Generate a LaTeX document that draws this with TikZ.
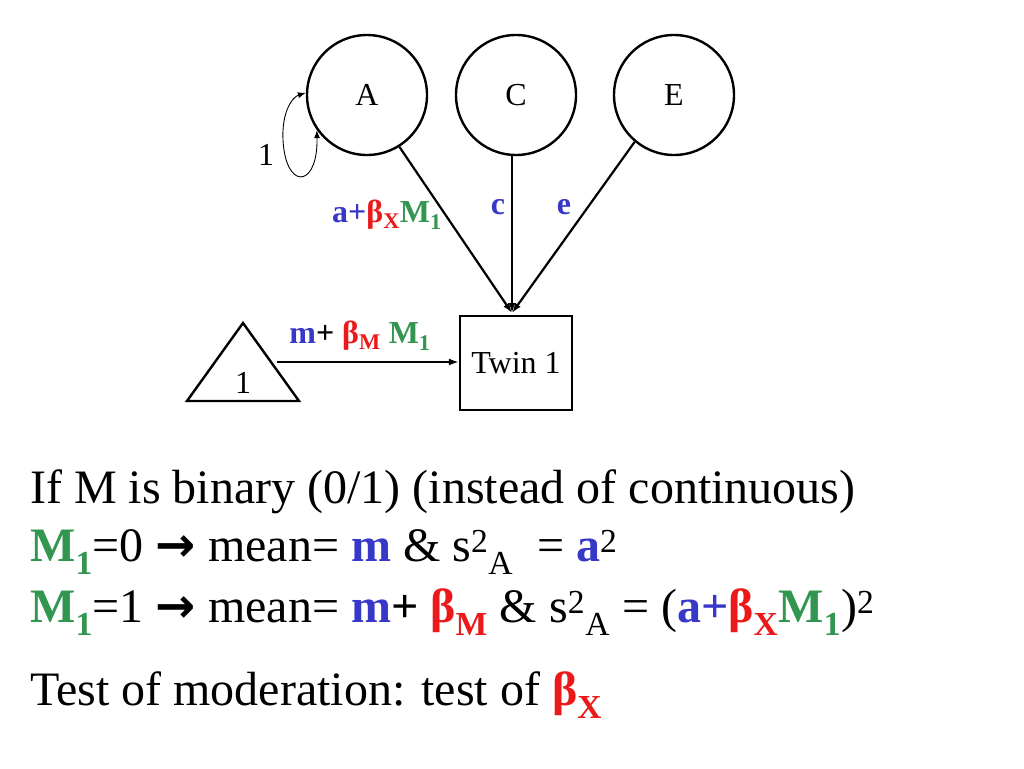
\documentclass[tikz,border=0pt]{standalone}
\usepackage{fontspec}
\setmainfont{Liberation Serif}
\usetikzlibrary{arrows.meta}
\definecolor{cb}{RGB}{55,55,200}
\definecolor{cg}{RGB}{50,150,80}
\definecolor{cr}{RGB}{235,25,25}
\begin{document}
\begin{tikzpicture}[x=1pt,y=-1pt,
  lat/.style={draw,circle,line width=2.4pt,minimum size=120pt,inner sep=0pt,font=\fontsize{32}{36}\selectfont},
  lbl/.style={font=\fontsize{32}{36}\selectfont\bfseries},
  big/.style={anchor=west,font=\fontsize{48}{54}\selectfont,inner sep=0pt}]
\useasboundingbox (0,0) rectangle (1024,768);
\node[lat] (A) at (367,95) {A};
\node[lat] (C) at (516,95) {C};
\node[lat] (E) at (674,95) {E};
\node[draw,line width=2.4pt,minimum width=112pt,minimum height=94pt,font=\fontsize{32}{36}\selectfont] (T) at (516,363) {Twin 1};
\coordinate (Tt) at (512,313);
\draw[line width=2.4pt] (187,401) -- (299,401) -- (243,323) -- cycle;
\node[font=\fontsize{32}{36}\selectfont] (one) at (243,383) {1};
\coordinate (tr) at (277,362);
\draw[-{Latex[length=10pt,width=7pt]},line width=2.2pt] (A.-58) -- (Tt);
\draw[-{Latex[length=10pt,width=7pt]},line width=2.2pt] (512,155) -- (Tt);
\draw[-{Latex[length=10pt,width=7pt]},line width=2.2pt] (E.-130) -- (Tt);
\draw[-{Latex[length=10pt,width=7pt]},line width=1.8pt] (tr) -- (T.west |- tr);
\draw[{Latex[length=8pt,width=6pt]}-{Latex[length=8pt,width=6pt]},line width=0.9pt] (A.-145) .. controls (318,185) and (290,190) .. (284,150) .. controls (279,115) and (292,97) .. (A.178);
\node[font=\fontsize{32}{36}\selectfont] (l1) at (266,155) {1};
\node[lbl] (la) at (387,215) {\textcolor{cb}{a+}\textcolor{cr}{β\textsubscript{X}}\textcolor{cg}{M\textsubscript{1}}};
\node[lbl,text=cb] (lc) at (498,207) {c};
\node[lbl,text=cb] (le) at (564,207) {e};
\node[lbl] (lm) at (360,336) {\textcolor{cb}{m}+ \textcolor{cr}{β\textsubscript{M}} \textcolor{cg}{M\textsubscript{1}}};
\node[big] (t1) at (30,492) {If M is binary (0/1) (instead of continuous)};
\node[big] (t2) at (30,552) {\textcolor{cg}{\textbf{M\textsubscript{1}}}=0 {\fontspec{DejaVu Sans}\bfseries →} mean= \textcolor{cb}{\textbf{m}} \& s\textsuperscript{2}\textsubscript{A} \ = \textcolor{cb}{\textbf{a}}\textsuperscript{2}};
\node[big] (t3) at (30,612) {\textcolor{cg}{\textbf{M\textsubscript{1}}}=1 {\fontspec{DejaVu Sans}\bfseries →} mean= \textcolor{cb}{\textbf{m}}\textbf{+} \textcolor{cr}{\textbf{β\textsubscript{M}}} \& s\textsuperscript{2}\textsubscript{A} = (\textcolor{cb}{\textbf{a+}}\textcolor{cr}{\textbf{β\textsubscript{X}}}\textcolor{cg}{\textbf{M\textsubscript{1}}})\textsuperscript{2}};
\node[big] (t4) at (30,695) {Test of moderation: test of \textcolor{cr}{\textbf{β\textsubscript{X}}}};
\end{tikzpicture}
\end{document}
